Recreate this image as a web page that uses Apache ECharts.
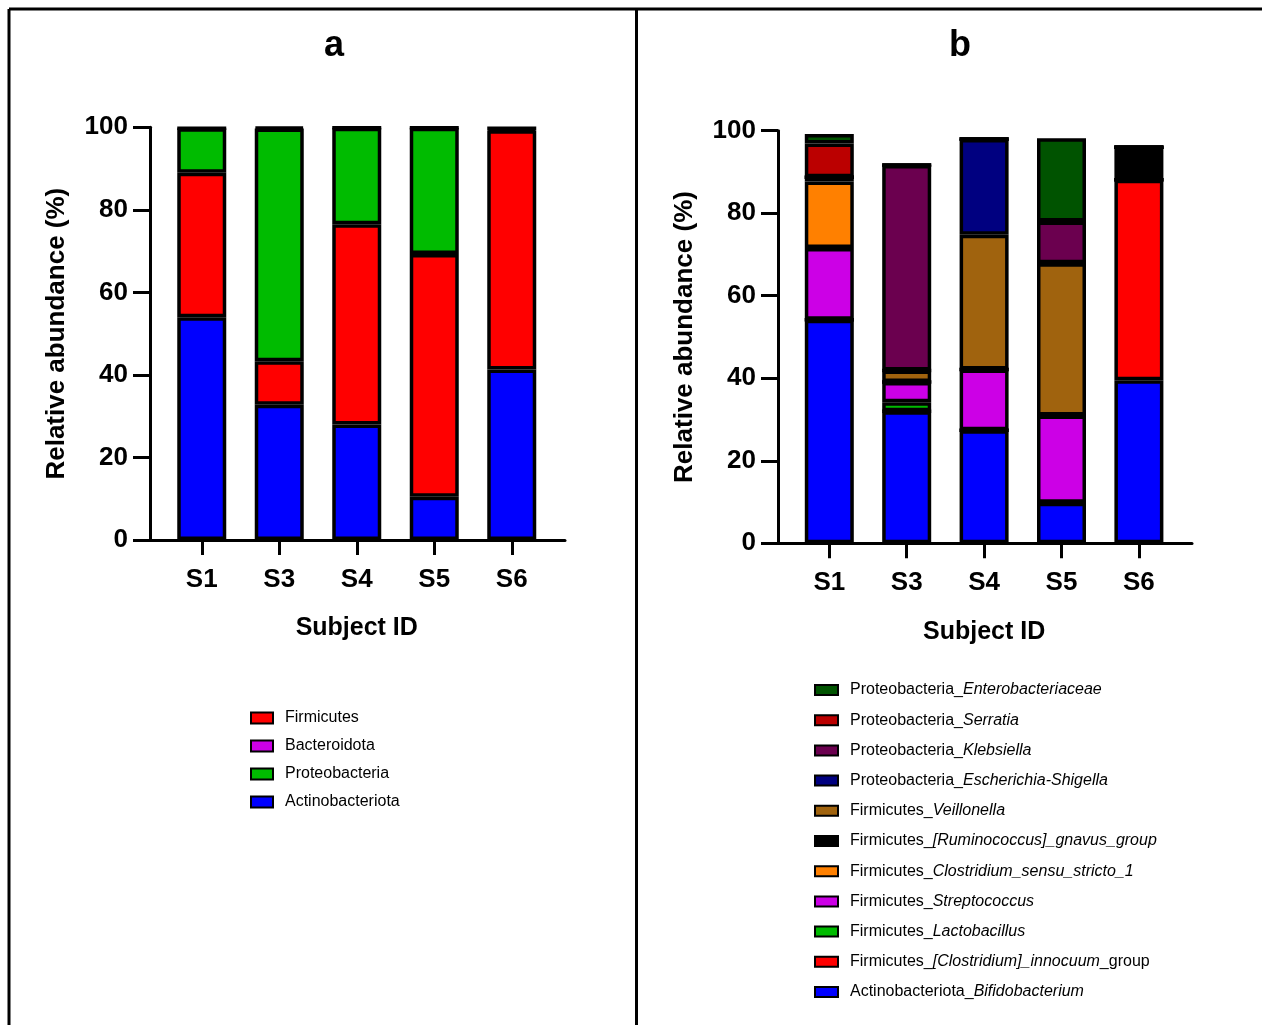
<!DOCTYPE html>
<html>
<head>
<meta charset="utf-8">
<script src="https://cdn.jsdelivr.net/npm/echarts@6/dist/echarts.min.js"></script>
<style>
  html, body { margin: 0; padding: 0; background: #fff; }
  #main { width: 1262px; height: 1025px; }
</style>
</head>
<body>
<div id="main"></div>
<script>
// subjects on x axis
const subjects = ['S1', 'S3', 'S4', 'S5', 'S6'];
const yTicks = [0, 20, 40, 60, 80, 100];

// panel a - phylum level (%), bottom to top
const actinobacteriota = [54.0, 32.8, 28.0, 10.5, 41.3];
const firmicutes = [35.0, 10.5, 48.5, 58.8, 58.0];
const proteobacteria = [10.8, 56.4, 23.4, 30.6, 0.5];
const bacteroidota = [0, 0.3, 0, 0, 0];

// panel b - genus level (%), bottom to top
const bifidobacterium = [54.2, 32.0, 27.4, 9.8, 39.5];
const innocuum = [0, 0, 0, 0, 48.6];
const lactobacillus = [0, 2.2, 0, 0, 0];
const streptococcus = [17.4, 4.9, 14.7, 21.2, 0];
const clostridiumSS = [16.1, 0, 0, 0, 0];
const gnavus = [1.0, 0, 0, 0, 7.9];
const veillonella = [0, 2.8, 32.7, 36.9, 0];
const escherichia = [0, 0, 23.2, 0, 0];
const klebsiella = [0, 49.8, 0, 10.1, 0];
const serratia = [8.2, 0, 0, 0, 0];
const enterobacteriaceae = [2.3, 0, 0, 20.2, 0];

const FONT = 'Liberation Sans, Arial, sans-serif';

const phylumSeries = [
  ['Actinobacteriota', actinobacteriota, '#0000ff'],
  ['Firmicutes', firmicutes, '#ff0000'],
  ['Proteobacteria', proteobacteria, '#00bb00'],
  ['Bacteroidota', bacteroidota, '#cc00e6']
];
const genusSeries = [
  ['Actinobacteriota_{i|Bifidobacterium}', bifidobacterium, '#0000ff'],
  ['Firmicutes_{i|[Clostridium]_innocuum}_group', innocuum, '#ff0000'],
  ['Firmicutes_{i|Lactobacillus}', lactobacillus, '#00bb00'],
  ['Firmicutes_{i|Streptococcus}', streptococcus, '#cc00e6'],
  ['Firmicutes_{i|Clostridium_sensu_stricto_1}', clostridiumSS, '#ff8000'],
  ['Firmicutes_{i|[Ruminococcus]_gnavus_group}', gnavus, '#000000'],
  ['Firmicutes_{i|Veillonella}', veillonella, '#a0630e'],
  ['Proteobacteria_{i|Escherichia-Shigella}', escherichia, '#000080'],
  ['Proteobacteria_{i|Klebsiella}', klebsiella, '#6b004f'],
  ['Proteobacteria_{i|Serratia}', serratia, '#bb0000'],
  ['Proteobacteria_{i|Enterobacteriaceae}', enterobacteriaceae, '#005300']
];

const chart = echarts.init(document.getElementById('main'), null, { renderer: 'canvas' });

function barSeries(list, idx, stack) {
  return list.map(([name, data, color]) => ({
    name: name,
    type: 'bar',
    stack: stack,
    xAxisIndex: idx,
    yAxisIndex: idx,
    barWidth: 49,
    data: data,
    itemStyle: { color: color, borderColor: '#000', borderWidth: 3.5 }
  }));
}

// grids: bars grid (category) + axis grid (wider, for the axis lines)
const gridA = { top: 127.3, height: 412.7 };
const gridB = { top: 130.7, height: 412.6 };

function catAxis(grid) {
  return {
    type: 'category', gridIndex: grid, data: subjects,
    axisLine: { show: false },
    axisTick: { show: true, alignWithLabel: true, length: 15, lineStyle: { color: '#000', width: 3 } },
    axisLabel: { color: '#000', fontSize: 26, fontWeight: 'bold', fontFamily: FONT, margin: 27 },
    name: 'Subject ID', nameLocation: 'middle', nameGap: 76,
    nameTextStyle: { color: '#000', fontSize: 25, fontWeight: 'bold', fontFamily: FONT }
  };
}
function lineAxis(grid) {
  return {
    type: 'value', gridIndex: grid, min: 0, max: 1,
    axisLine: { show: true, lineStyle: { color: '#000', width: 3 } },
    axisTick: { show: false }, axisLabel: { show: false }, splitLine: { show: false }
  };
}
function hiddenY(grid) {
  return { type: 'value', gridIndex: grid, min: 0, max: 100, show: false };
}
function shownY(grid) {
  return {
    type: 'value', gridIndex: grid, min: 0, max: 100, interval: 20,
    axisLine: { show: true, lineStyle: { color: '#000', width: 3 } },
    axisTick: { show: true, length: 17, lineStyle: { color: '#000', width: 3 } },
    axisLabel: {
      color: '#000', fontSize: 26, fontWeight: 'bold', fontFamily: FONT, margin: 22,
      formatter: v => yTicks.includes(v) ? String(v) : ''
    },
    splitLine: { show: false },
    name: 'Relative abundance (%)', nameLocation: 'middle', nameGap: 80,
    nameTextStyle: { color: '#000', fontSize: 26, fontWeight: 'bold', fontFamily: FONT }
  };
}

const legendText = {
  color: '#000', fontSize: 16, fontFamily: FONT, lineHeight: 16, padding: [0, 0, 0, 7],
  rich: { i: { fontStyle: 'italic', fontSize: 16, fontFamily: FONT, color: '#000' } }
};

var option = {
  backgroundColor: '#fff',
  animation: false,
  title: [
    { text: 'a', left: 319, top: 23, textStyle: { fontSize: 36, fontWeight: 'bold', fontFamily: FONT, color: '#000' } },
    { text: 'b', left: 944, top: 23, textStyle: { fontSize: 36, fontWeight: 'bold', fontFamily: FONT, color: '#000' } }
  ],
  grid: [
    Object.assign({ left: 163, width: 387.5 }, gridA),
    Object.assign({ left: 150, width: 415 }, gridA),
    Object.assign({ left: 790.6, width: 387 }, gridB),
    Object.assign({ left: 778, width: 414 }, gridB)
  ],
  xAxis: [catAxis(0), lineAxis(1), catAxis(2), lineAxis(3)],
  yAxis: [hiddenY(0), shownY(1), hiddenY(2), shownY(3)],
  legend: [
    {
      orient: 'vertical', left: 245, top: 705, icon: 'rect',
      itemWidth: 22, itemHeight: 11, itemGap: 12,
      itemStyle: { borderWidth: 2, borderColor: '#000' },
      data: ['Firmicutes', 'Bacteroidota', 'Proteobacteria', 'Actinobacteriota'],
      textStyle: legendText
    },
    {
      orient: 'vertical', left: 809, top: 677, icon: 'rect',
      itemWidth: 23, itemHeight: 10, itemGap: 14.2,
      itemStyle: { borderWidth: 2, borderColor: '#000' },
      data: genusSeries.map(s => s[0]).reverse(),
      textStyle: legendText
    }
  ],
  graphic: [
    { type: 'line', shape: { x1: 9, y1: 9, x2: 1262, y2: 9 }, style: { stroke: '#000', lineWidth: 3 } },
    { type: 'line', shape: { x1: 9, y1: 9, x2: 9, y2: 1025 }, style: { stroke: '#000', lineWidth: 3 } },
    { type: 'line', shape: { x1: 636.5, y1: 9, x2: 636.5, y2: 1025 }, style: { stroke: '#000', lineWidth: 3 } }
  ],
  series: barSeries(phylumSeries, 0, 'phylum').concat(barSeries(genusSeries, 2, 'genus'))
};
chart.setOption(option);
</script>
</body>
</html>
